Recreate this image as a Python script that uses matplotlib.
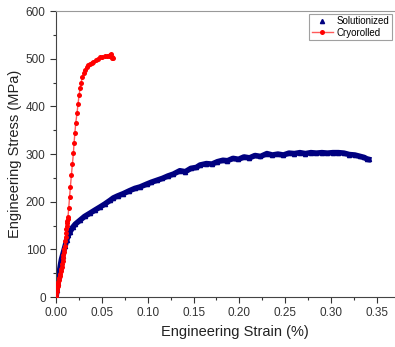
import matplotlib.pyplot as plt
from matplotlib.ticker import MultipleLocator, FormatStrFormatter

plt.rcParams['font.family'] = ['Liberation Sans', 'DejaVu Sans']

# Solutionized (strain, stress)
sol_x = [0.0, 0.001, 0.002, 0.003, 0.004, 0.005, 0.006, 0.007, 0.008, 0.010, 0.0116,
         0.0135, 0.0153, 0.018, 0.021, 0.026, 0.031, 0.037, 0.042, 0.048, 0.053, 0.059,
         0.0625, 0.067, 0.0734, 0.080, 0.086, 0.0916, 0.0989, 0.104, 0.110, 0.116, 0.122,
         0.128, 0.135, 0.141, 0.147, 0.153, 0.157, 0.164, 0.170, 0.176, 0.182, 0.187,
         0.193, 0.199, 0.205, 0.211, 0.217, 0.223, 0.230, 0.236, 0.242, 0.248, 0.254,
         0.260, 0.266, 0.272, 0.278, 0.284, 0.290, 0.296, 0.302, 0.308, 0.314, 0.320,
         0.326, 0.332, 0.336, 0.339, 0.341]
sol_y = [0, 15, 30, 45, 58, 70, 80, 87, 94, 108, 120,
         130, 137, 146, 153, 161, 169, 176, 182, 189, 195, 203,
         208, 212, 217, 223, 228, 231, 237, 241, 245, 249, 254,
         258, 265, 263, 270, 272, 277, 280, 279, 284, 287, 286,
         291, 289, 294, 292, 297, 295, 301, 298, 300, 298, 302,
         301, 303, 301, 303, 302, 303, 302, 303, 303, 302, 299,
         298, 295, 293, 290, 289]

# Cryorolled (strain, stress)
cry_x = [0.0, 0.0003, 0.0006, 0.001, 0.0013, 0.0016, 0.002, 0.0025, 0.003, 0.0035,
         0.004, 0.0045, 0.005, 0.0055, 0.006, 0.0065, 0.007, 0.0075, 0.008, 0.0085,
         0.009, 0.0095, 0.010, 0.0104, 0.0108, 0.0112, 0.0116, 0.012, 0.0123, 0.0127,
         0.013, 0.0138, 0.0147, 0.0156,
         0.0167, 0.0178, 0.0189, 0.0196, 0.0205, 0.0215, 0.0229, 0.024, 0.0251,
         0.0262, 0.0273, 0.0287, 0.0305, 0.0318, 0.0334, 0.035, 0.037, 0.039,
         0.0407, 0.043, 0.0455, 0.048, 0.0505, 0.053, 0.0553, 0.0575, 0.0585,
         0.060, 0.0605, 0.061, 0.0622]
cry_y = [0, 6, 12, 18, 21, 24, 28, 32, 36, 40,
         44, 49, 54, 59, 64, 70, 76, 82, 88, 94,
         100, 108, 118, 126, 135, 142, 150, 155, 160, 164,
         168, 187, 210, 231,
         256, 279, 302, 323, 344, 366, 387, 406, 424,
         438, 450, 462, 471, 477, 483, 487, 490, 492,
         494, 497, 500, 503, 504, 505, 506, 505, 508,
         510, 504, 501, 501]

fig = plt.figure(figsize=(3.95, 3.47), dpi=100)
ax = fig.add_axes([0.142, 0.144, 1.047 - 0.142, 0.968 - 0.144])

navy = '#000080'
ax.plot(sol_x, sol_y, color=navy, lw=4, zorder=2)
ax.plot(sol_x, sol_y, '^', color=navy, ms=3, lw=0, zorder=3, label='Solutionized')
ax.plot(cry_x, cry_y, '-o', color='#ff5a5a', mfc='red', mec='red', ms=3.6, lw=1,
        zorder=4, markeredgewidth=0, label='Cryorolled')

ax.set_xlim(0, 0.39)
ax.set_ylim(0, 600)
ax.xaxis.set_major_locator(MultipleLocator(0.05))
ax.xaxis.set_minor_locator(MultipleLocator(0.025))
ax.yaxis.set_major_locator(MultipleLocator(100))
ax.yaxis.set_minor_locator(MultipleLocator(50))
ax.xaxis.set_major_formatter(FormatStrFormatter('%.2f'))
ax.tick_params(which='major', direction='out', length=4, width=0.8, labelsize=8.5,
               colors='#333333', top=False, right=False)
ax.tick_params(which='minor', direction='out', length=2.5, width=0.8,
               colors='#333333', top=False, right=False)
for s in ['left', 'bottom']:
    ax.spines[s].set_color('#444444')
ax.spines['top'].set_color('#999999')
ax.spines['right'].set_visible(False)

ax.set_xlabel('Engineering Strain (%)', fontsize=10.5, color='#222222', labelpad=4)
ax.set_ylabel('Engineering Stress (MPa)', fontsize=10.5, color='#222222', labelpad=3)

leg = ax.legend(loc='upper right', bbox_to_anchor=(392 / 395, 1 - 14 / 347),
                bbox_transform=fig.transFigure, fontsize=7,
                frameon=True, fancybox=False, borderpad=0.25, handlelength=2.2,
                handletextpad=0.4, labelspacing=0.15, borderaxespad=0)
leg.get_frame().set_edgecolor('#888888')
leg.get_frame().set_linewidth(0.8)

fig.savefig('out.png', dpi=100)
